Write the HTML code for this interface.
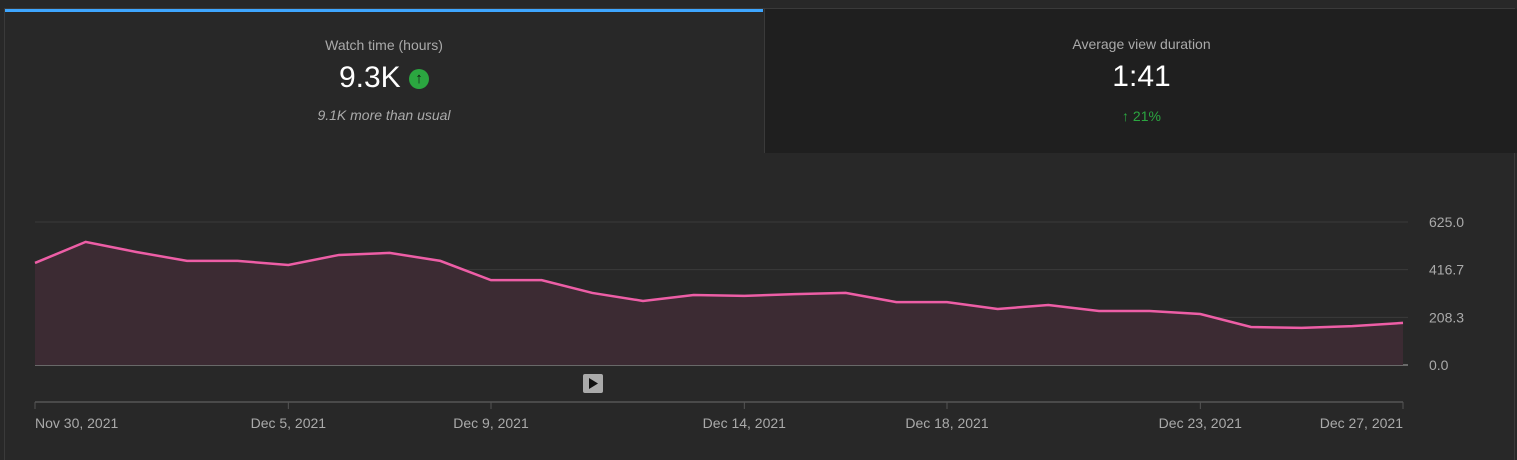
<!DOCTYPE html>
<html><head><meta charset="utf-8"><style>
body{margin:0;width:1517px;height:459px;background:#282828;overflow:hidden;font-family:"Liberation Sans",sans-serif;position:relative}
.card{position:absolute;top:9px;height:144px;text-align:center}
.t{font-size:14px;color:#aaa;position:absolute;top:25px;width:100%}
.v{font-size:30px;color:#fff;position:absolute;top:49px;width:100%}
.s{font-size:14px;position:absolute;top:95px;width:100%}
</style></head><body>
<div style="position:absolute;left:4px;top:8px;width:1509px;height:451px;border:1px solid #3a3a3a;border-bottom:none"></div>
<div class="card" style="left:5px;width:758px;background:#282828;border-top:3px solid #3ea6ff;top:9px">
<div class="t">Watch time (hours)</div>
<div class="v">9.3K <span style="display:inline-block;width:20px;height:20px;border-radius:50%;background:#2ba640;color:#111;font-size:15px;line-height:20px;vertical-align:4px;font-weight:bold">↑</span></div>
<div class="s" style="color:#aaa;font-style:italic">9.1K more than usual</div>
</div>
<div class="card" style="left:764px;width:753px;background:#1f1f1f;top:9px;height:144px;border-left:1px solid #3a3a3a">
<div class="t" style="top:27px">Average view duration</div>
<div class="v" style="top:51px">1:41</div>
<div class="s" style="color:#2ba640;top:99px">↑ 21%</div>
</div>
<svg id="c" width="1517" height="459" style="position:absolute;left:0;top:0"></svg>
<script>
const labels=["Nov 30, 2021","Dec 5, 2021","Dec 9, 2021","Dec 14, 2021","Dec 18, 2021","Dec 23, 2021","Dec 27, 2021"];
const labelIdx=[0,5,9,14,18,23,27];
const values=[446,538,494,455,455,437,481,490,455,371,371,315,280,306,302,310,315,275,275,245,262,236,236,223,166,162,170,184];
const yTicks=[0,208.3,416.7,625.0];
const NS="http://www.w3.org/2000/svg",svg=document.getElementById('c');
const x0=35,x1=1403,y0=365,y1=222;
const X=i=>x0+(x1-x0)*i/(values.length-1);
const Y=v=>y0-(y0-y1)*v/625;
function mk(t,a,p){const e=document.createElementNS(NS,t);for(const k in a)e.setAttribute(k,a[k]);(p||svg).appendChild(e);return e;}
yTicks.forEach(t=>{
const g=mk('line',{x1:x0,x2:1408,y1:Y(t),y2:Y(t),stroke:t===0?'#aaa':'#3a3a3a','stroke-width':1});


const tx=mk('text',{x:1429,y:Y(t)+5,fill:'#aaa','font-size':14,'font-family':'Liberation Sans'});
tx.textContent=t.toFixed(1);


});
let d=values.map((v,i)=>(i?'L':'M')+X(i)+' '+Y(v)).join(' ');
const a=mk('path',{d:d+` L${x1} ${y0} L${x0} ${y0} Z`,fill:'#3c2b33'});


const l=mk('path',{d:d,fill:'none',stroke:'#ed5ea6','stroke-width':2.5});


mk('line',{x1:x0,x2:x1,y1:402,y2:402,stroke:'#555','stroke-width':1.5});
labelIdx.forEach((ix,j)=>{
mk('line',{x1:X(ix),x2:X(ix),y1:402,y2:409,stroke:'#555'});
const anchor=j===0?'start':(j===labels.length-1?'end':'middle');
const tx=mk('text',{x:X(ix),y:428,fill:'#aaa','font-size':14,'text-anchor':anchor,'font-family':'Liberation Sans'});
tx.textContent=labels[j];


});
const b=mk('rect',{x:583,y:374,width:20,height:19,rx:2,fill:'#aaa'});


mk('path',{d:'M589 378 L598 383.5 L589 389 Z',fill:'#111'});
</script>
</body></html>
